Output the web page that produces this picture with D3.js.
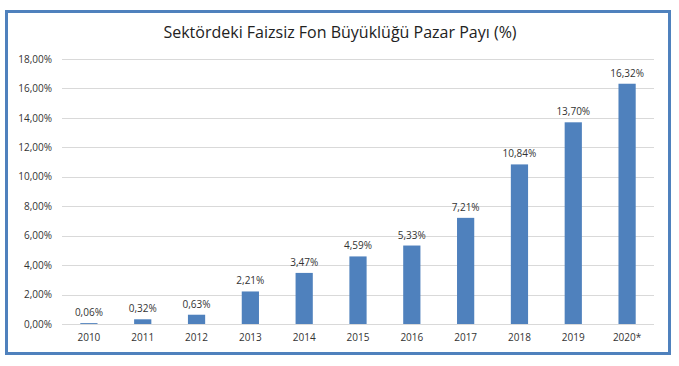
<!DOCTYPE html>
<html>
<head>
<meta charset="utf-8">
<script src="https://cdn.jsdelivr.net/npm/d3@7"></script>
<style>
  body { margin: 0; background: #fff; }
  text { font-family: "Open Sans", "Liberation Sans", sans-serif; fill: #333; }
</style>
</head>
<body>
<div id="chart"></div>
<script>
const fig_width = 679
const fig_height = 366

// chart values
const years = ['2010', '2011', '2012', '2013', '2014', '2015', '2016', '2017', '2018', '2019', '2020*']
const shares = [0.06, 0.32, 0.63, 2.21, 3.47, 4.59, 5.33, 7.21, 10.84, 13.70, 16.32]
const y_ticks = [0, 2, 4, 6, 8, 10, 12, 14, 16, 18]
const title = 'Sektördeki Faizsiz Fon Büyüklüğü Pazar Payı (%)'

const fmt = v => v.toFixed(2).replace('.', ',') + '%'

let svg = d3.select('#chart')
    .append('svg')
    .attr('width', fig_width)
    .attr('height', fig_height)

// outer frame
svg.append('rect')
    .attr('x', 6.5).attr('y', 11.5)
    .attr('width', 663).attr('height', 342)
    .attr('fill', 'none')
    .attr('stroke', '#4F81BD')
    .attr('stroke-width', 3)

svg.append('text')
    .attr('x', 340).attr('y', 38)
    .attr('text-anchor', 'middle')
    .style('font-size', '16px')
    .style('fill', '#222')
    .text(title)

let x = d3.scaleBand().domain(years).range([62, 654]).paddingInner(0.68).paddingOuter(0.34)
let y = d3.scaleLinear().domain([0, 18]).range([324, 59])

// gridlines
svg.append('g')
    .selectAll('line')
    .data(y_ticks)
    .join('line')
    .attr('x1', 62).attr('x2', 654)
    .attr('y1', d => Math.round(y(d)) + 0.5)
    .attr('y2', d => Math.round(y(d)) + 0.5)
    .attr('stroke', '#D9D9D9')

// y axis labels
let yAxis = svg.append('g')
    .attr('transform', 'translate(52,0)')
    .call(d3.axisLeft(y).tickValues(y_ticks).tickSize(0).tickPadding(0).tickFormat(fmt))
yAxis.select('.domain').remove()
yAxis.selectAll('text').style('font-size', '10px').style('font-family', '"Open Sans", sans-serif').attr('fill', '#333')

// x axis labels
let xAxis = svg.append('g')
    .attr('transform', 'translate(0,' + 330 + ')')
    .call(d3.axisBottom(x).tickSize(0).tickPadding(4))
xAxis.select('.domain').remove()
xAxis.selectAll('text').style('font-size', '10px').style('font-family', '"Open Sans", sans-serif').attr('fill', '#333')

// bars
svg.append('g')
    .selectAll('rect')
    .data(years)
    .join('rect')
    .attr('x', (d, i) => x(d))
    .attr('width', x.bandwidth())
    .attr('y', (d, i) => y(shares[i]))
    .attr('height', (d, i) => y(0) - y(shares[i]))
    .attr('fill', '#4F81BD')

// value labels
svg.append('g')
    .selectAll('text')
    .data(years)
    .join('text')
    .attr('x', d => x(d) + x.bandwidth() / 2)
    .attr('y', (d, i) => y(shares[i]) - 7)
    .attr('text-anchor', 'middle')
    .style('font-size', '10px')
    .text((d, i) => fmt(shares[i]))
</script>
</body>
</html>
